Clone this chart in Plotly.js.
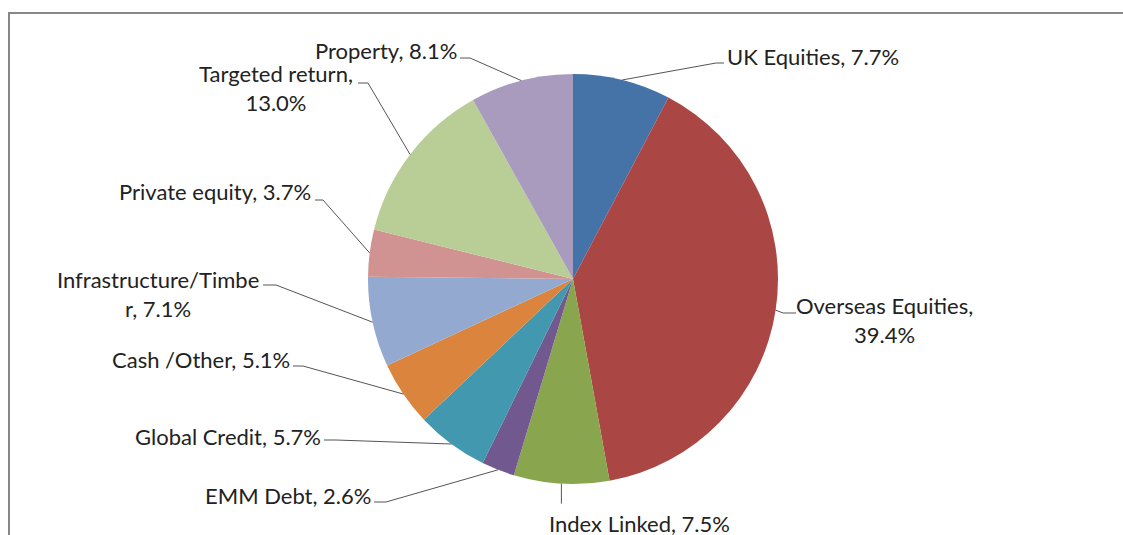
<!DOCTYPE html>
<html>
<head>
<meta charset="utf-8">
<script src="https://cdn.plot.ly/plotly-3.0.1.min.js"></script>
<style>html,body{margin:0;padding:0;background:#fff;}#chart{width:1123px;height:535px;}</style>
</head>
<body>
<div id="chart"></div>
<script>
// ---- data ----
var categories = ["UK Equities", "Overseas Equities", "Index Linked", "EMM Debt", "Global Credit",
                  "Cash /Other", "Infrastructure/Timber", "Private equity", "Targeted return", "Property"];
var values = [7.7, 39.4, 7.5, 2.6, 5.7, 5.1, 7.1, 3.7, 13.0, 8.1];
var labelTexts = ["UK Equities, 7.7%", "Overseas Equities,<br>39.4%", "Index Linked, 7.5%", "EMM Debt, 2.6%",
                  "Global Credit, 5.7%", "Cash /Other, 5.1%", "Infrastructure/Timbe<br>r, 7.1%",
                  "Private equity, 3.7%", "Targeted return,<br>13.0%", "Property, 8.1%"];
var colors = ["#4572A7", "#AA4643", "#89A54E", "#71588F", "#4198AF",
              "#DB843D", "#93A9CF", "#D19392", "#B9CD96", "#A99BBD"];

// ---- layout (pixels) ----
var W = 1123, H = 535;
var CX = 573, CY = 279, R = 205;
// label anchor x, anchor side, centre y
var labelX = [725, 884, 639, 373, 323, 292, 158, 313, 276, 459];
var labelAnchor = ['left', 'center', 'center', 'right', 'right', 'right', 'center', 'right', 'center', 'right'];
var labelY = [56, 320, 523, 495, 436, 359, 294, 192, 88, 50];
// leader stubs: [x_at_label, x_stub_end, y]
var stubs = [[724,716,63],[796,783,313],null,[374,386,502],[324,336,440],[293,303,366],[263,276,285],[315,323,200],[358,368,83],[460,470,58]];

function px(x){ return x / W; }
function py(y){ return 1 - y / H; }

var total = values.reduce(function(a,b){return a+b;}, 0);
var shapes = [];
var annotations = [];
var cum = 0;
for (var i = 0; i < values.length; i++) {
  var mid = (cum + values[i] / 2) / total * 2 * Math.PI;
  cum += values[i];
  var ex = CX + R * Math.sin(mid), ey = CY - R * Math.cos(mid);
  var path;
  if (stubs[i]) {
    path = 'M ' + px(stubs[i][0]) + ',' + py(stubs[i][2]) + ' L ' + px(stubs[i][1]) + ',' + py(stubs[i][2]) +
           ' L ' + px(ex) + ',' + py(ey);
  } else {
    path = 'M ' + px(ex) + ',' + py(ey) + ' L ' + px(ex) + ',' + py(ey + 20);
  }
  shapes.push({type: 'path', xref: 'paper', yref: 'paper', path: path,
               line: {color: '#555555', width: 1}});
  annotations.push({xref: 'paper', yref: 'paper', x: px(labelX[i]), y: py(labelY[i]),
                    xanchor: labelAnchor[i], yanchor: 'middle', align: 'center', showarrow: false,
                    text: labelTexts[i], font: {family: 'Lato, Carlito, sans-serif', size: 22, color: '#222222'}});
}
// chart frame
shapes.push({type: 'line', xref: 'paper', yref: 'paper', x0: px(9), x1: px(9), y0: py(13), y1: py(540),
             line: {color: '#878787', width: 2}});
shapes.push({type: 'line', xref: 'paper', yref: 'paper', x0: px(8), x1: px(1125), y0: py(13), y1: py(13),
             line: {color: '#878787', width: 2}});

var trace = {
  type: 'pie', labels: categories, values: values, sort: false, direction: 'clockwise', rotation: 0,
  marker: {colors: colors, line: {width: 0}}, textinfo: 'none', hoverinfo: 'label+percent',
  showlegend: false,
  domain: {x: [px(CX - R), px(CX + R)], y: [py(CY + R), py(CY - R)]}
};

Plotly.newPlot('chart', [trace], {
  width: W, height: H, margin: {l: 0, r: 0, t: 0, b: 0},
  paper_bgcolor: '#ffffff', showlegend: false,
  shapes: shapes, annotations: annotations
}, {displayModeBar: false, staticPlot: true});
</script>
</body>
</html>
